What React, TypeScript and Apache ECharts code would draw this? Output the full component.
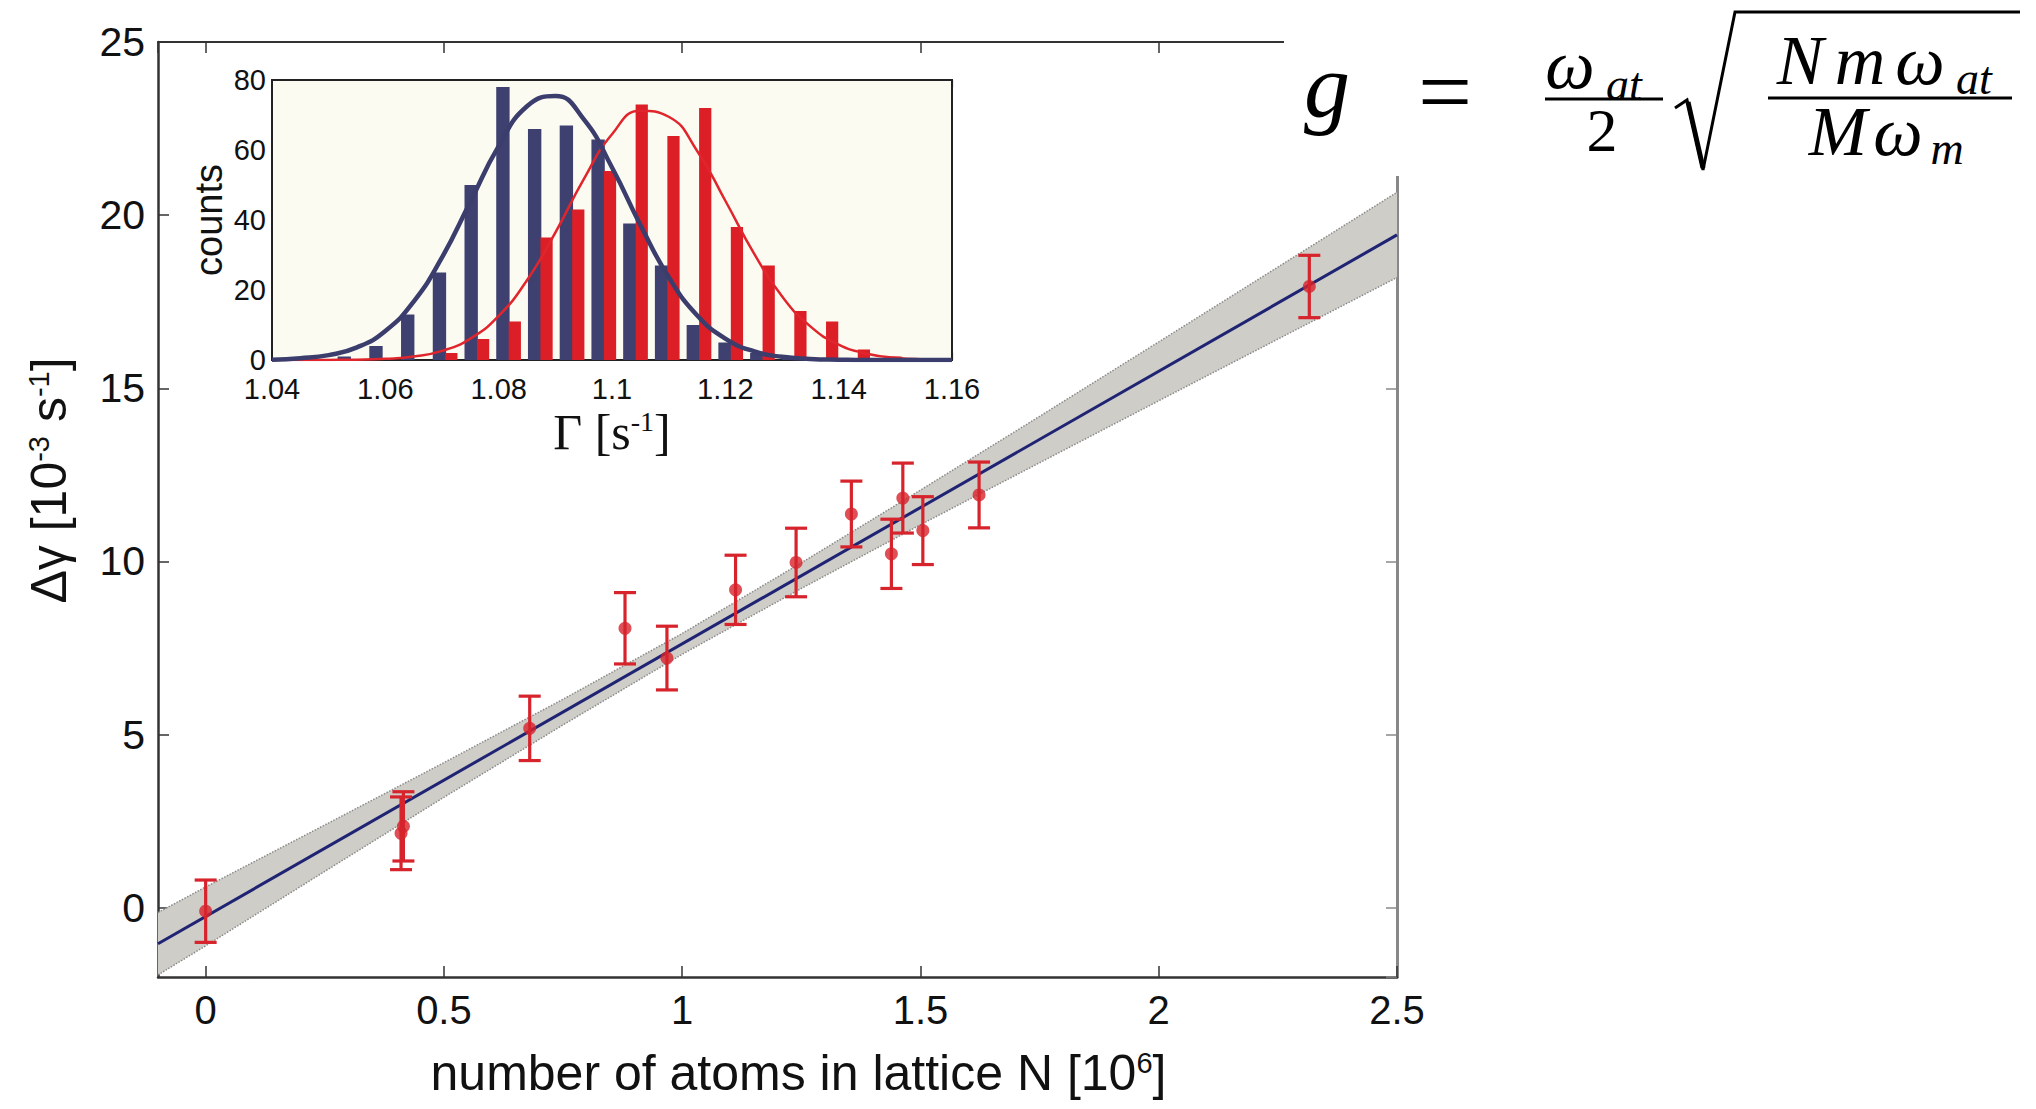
import React, { useEffect, useRef } from "react";
import * as echarts from "echarts";

// ---- main plot data: delta gamma vs atom number ----
const atomsN = [0, 0.41, 0.415, 0.68, 0.88, 0.968, 1.112, 1.239, 1.355, 1.439, 1.463, 1.505, 1.623, 2.316];
const deltaGamma = [-0.1, 2.15, 2.35, 5.18, 8.07, 7.21, 9.18, 9.97, 11.37, 10.22, 11.83, 10.89, 11.92, 17.94];
const errGamma = [0.9, 1.05, 1.0, 0.93, 1.03, 0.92, 1.0, 0.99, 0.95, 1.0, 1.01, 0.98, 0.95, 0.9];

// linear fit and its confidence band
const fitN = [-0.1, 2.5];
const fitGamma = [-1.04, 19.43];
const bandN = [-0.1, 0, 0.25, 0.5, 0.75, 1.0, 1.25, 1.5, 1.75, 2.0, 2.25, 2.5];
const bandLower = [-1.94, -1.1, 1.05, 3.19, 5.28, 7.32, 9.22, 11.06, 12.85, 14.64, 16.42, 18.2];
const bandUpper = [-0.14, 0.6, 2.39, 4.19, 6.02, 7.92, 9.96, 12.06, 14.19, 16.34, 18.5, 20.66];

// ---- inset histogram ----
const binGamma = [1.0538, 1.0594, 1.065, 1.0706, 1.0762, 1.0818, 1.0874, 1.093, 1.0986, 1.1042, 1.1098, 1.1154, 1.121, 1.1266, 1.1322, 1.1378, 1.1434, 1.149];
const blueCounts = [1, 4, 13, 25, 50, 78, 66, 67, 63, 39, 27, 10, 5, 2, 1, 0, 0, 0];
const redCounts = [0, 0, 0, 2, 6, 11, 35, 43, 54, 73, 64, 72, 38, 27, 14, 11, 3, 1];

const curveGamma = [1.04, 1.045, 1.05, 1.055, 1.06, 1.065, 1.07, 1.075, 1.08, 1.085, 1.09, 1.095, 1.1, 1.105, 1.11, 1.115, 1.12, 1.125, 1.13, 1.135, 1.14, 1.145, 1.15, 1.155, 1.16];
const blueFit = [0.1, 0.5, 1.4, 3.6, 8.3, 16.7, 29.3, 45.2, 61.1, 72.5, 75.4, 68.8, 55.0, 38.6, 23.7, 12.8, 6.1, 2.5, 0.9, 0.3, 0.1, 0, 0, 0, 0];
const redFit = [0, 0, 0.03, 0.1, 0.34, 1.0, 2.6, 6.1, 12.6, 22.8, 36.4, 51.6, 64.5, 71.2, 69.5, 59.8, 45.5, 30.6, 18.2, 9.6, 4.4, 1.8, 0.66, 0.2, 0.06];

const SANS = "Liberation Sans, Arial, sans-serif";
const SERIF = "Liberation Serif, Times New Roman, serif";
const RED = "#d6232c";
const NAVY = "#1f2373";
const BLUE_BAR = "#3e4070";
const RED_BAR = "#dc1e27";

function barRenderer(offset: number, halfW: number, color: string) {
  return (_params: any, api: any) => {
    const c = api.value(0) as number;
    const h = api.value(1) as number;
    if (!h) return null;
    const p0 = api.coord([c + offset - halfW, h]);
    const p1 = api.coord([c + offset + halfW, 0]);
    return {
      type: "rect",
      shape: { x: p0[0], y: p0[1], width: p1[0] - p0[0], height: p1[1] - p0[1] },
      style: { fill: color },
    };
  };
}

function mathText(text: string, x: number, y: number, size: number, italic: boolean) {
  return {
    type: "text",
    x,
    y,
    z: 110,
    style: {
      text,
      fill: "#000",
      fontSize: size,
      fontFamily: SERIF,
      fontStyle: italic ? "italic" : "normal",
      textAlign: "center",
      textVerticalAlign: "middle",
      align: "center",
      verticalAlign: "middle",
    },
  };
}

export default function App() {
  const ref = useRef<HTMLDivElement>(null);

  useEffect(() => {
    if (!ref.current) return;
    const chart = echarts.init(ref.current, undefined, { renderer: "svg" });

    const mainTick = { inside: true, length: 11, lineStyle: { color: "#333", width: 1.5 } };
    const insetTick = { inside: true, length: 7, lineStyle: { color: "#333", width: 1.2 } };

    const option: any = {
      animation: false,
      backgroundColor: "#ffffff",
      textStyle: { fontFamily: SANS },
      grid: [
        { left: 158, top: 42, width: 1239, height: 935, show: false },
        { left: 272, top: 80, width: 680, height: 280, show: true, backgroundColor: "#fbfbf2", borderColor: "#222", borderWidth: 2, z: 5 },
      ],
      xAxis: [
        {
          type: "value", gridIndex: 0, position: "bottom", min: -0.1, max: 2.5, splitNumber: 5,
          axisLine: { show: true, onZero: false, lineStyle: { color: "#333", width: 2.5 } },
          axisTick: mainTick,
          splitLine: { show: false },
          axisLabel: { fontSize: 40, color: "#111", margin: 13, fontFamily: SANS, showMinLabel: false },
          name: "{n|number of atoms in lattice N [10}{s|6}{n|]}",
          nameLocation: "middle",
          nameGap: 71,
          nameTextStyle: {
            padding: [0, 0, 0, 42],
            rich: {
              n: { fontSize: 50, fontFamily: SANS, color: "#111" },
              s: { fontSize: 29, fontFamily: SANS, color: "#111", verticalAlign: "top" },
            },
          },
        },
        {
          type: "value", gridIndex: 0, position: "top", min: -0.1, max: 2.5, splitNumber: 5,
          axisLine: { show: true, onZero: false, lineStyle: { color: "#333", width: 2 } },
          axisTick: mainTick, axisLabel: { show: false }, splitLine: { show: false },
        },
        {
          type: "value", gridIndex: 1, position: "bottom", min: 1.04, max: 1.16, interval: 0.02,
          axisLine: { show: true, onZero: false, lineStyle: { color: "#222", width: 2 } },
          axisTick: insetTick, splitLine: { show: false },
          axisLabel: { fontSize: 29, lineHeight: 29, color: "#111", margin: 14, fontFamily: SANS, formatter: (v: number) => String(+v.toFixed(2)) },
          name: "{n|Γ [s}{s|-1}{n|]}",
          nameLocation: "middle",
          nameGap: 47,
          nameTextStyle: {
            rich: {
              n: { fontSize: 50, fontFamily: SERIF, color: "#111" },
              s: { fontSize: 28, fontFamily: SERIF, color: "#111", verticalAlign: "top" },
            },
          },
        },
        {
          type: "value", gridIndex: 1, position: "top", min: 1.04, max: 1.16, interval: 0.02,
          axisLine: { show: true, onZero: false, lineStyle: { color: "#222", width: 2 } },
          axisTick: insetTick, axisLabel: { show: false }, splitLine: { show: false },
        },
      ],
      yAxis: [
        {
          type: "value", gridIndex: 0, position: "left", min: -2, max: 25, splitNumber: 5,
          axisLine: { show: true, onZero: false, lineStyle: { color: "#333", width: 2.5 } },
          axisTick: mainTick, splitLine: { show: false },
          axisLabel: { fontSize: 41, color: "#111", margin: 13, fontFamily: SANS, showMinLabel: false },
          name: "{n|Δγ [10}{s|-3}{n| s}{s|-1}{n|]}",
          nameLocation: "middle",
          nameGap: 84,
          nameTextStyle: {
            padding: [0, 0, 0, 58],
            rich: {
              n: { fontSize: 50, fontFamily: SANS, color: "#111" },
              s: { fontSize: 29, fontFamily: SANS, color: "#111", verticalAlign: "top" },
            },
          },
        },
        {
          type: "value", gridIndex: 0, position: "right", min: -2, max: 25, splitNumber: 5,
          axisLine: { show: true, onZero: false, lineStyle: { color: "#888", width: 3 } },
          axisTick: { inside: true, length: 11, lineStyle: { color: "#888", width: 1.5 } },
          axisLabel: { show: false }, splitLine: { show: false },
        },
        {
          type: "value", gridIndex: 1, position: "left", min: 0, max: 80, interval: 20,
          axisLine: { show: true, onZero: false, lineStyle: { color: "#222", width: 2 } },
          axisTick: insetTick, splitLine: { show: false },
          axisLabel: { fontSize: 29, lineHeight: 29, color: "#111", margin: 6, fontFamily: SANS },
          name: "counts",
          nameLocation: "middle",
          nameGap: 44,
          nameTextStyle: { fontSize: 38, fontFamily: SANS, color: "#111" },
        },
        {
          type: "value", gridIndex: 1, position: "right", min: 0, max: 80, interval: 20,
          axisLine: { show: true, onZero: false, lineStyle: { color: "#222", width: 2 } },
          axisTick: insetTick, axisLabel: { show: false }, splitLine: { show: false },
        },
      ],
      series: [
        {
          type: "custom",
          name: "confidence band",
          xAxisIndex: 0, yAxisIndex: 0, z: 1,
          data: bandN.map((n, i) => [n, bandLower[i], bandUpper[i]]),
          encode: { x: 0, y: [1, 2] },
          renderItem: (params: any, api: any) => {
            if (params.dataIndex !== 0) return null;
            const up = bandN.map((n, i) => api.coord([n, bandUpper[i]]));
            const lo = bandN.map((n, i) => api.coord([n, bandLower[i]])).reverse();
            return { type: "polygon", shape: { points: up.concat(lo) }, style: { fill: "#cfcdc7" } };
          },
        },
        {
          type: "line", name: "band upper", xAxisIndex: 0, yAxisIndex: 0, z: 2,
          data: bandN.map((n, i) => [n, bandUpper[i]]),
          symbol: "none", lineStyle: { color: "#8a8a8a", width: 1.5, type: "dotted" },
        },
        {
          type: "line", name: "band lower", xAxisIndex: 0, yAxisIndex: 0, z: 2,
          data: bandN.map((n, i) => [n, bandLower[i]]),
          symbol: "none", lineStyle: { color: "#8a8a8a", width: 1.5, type: "dotted" },
        },
        {
          type: "line", name: "fit", xAxisIndex: 0, yAxisIndex: 0, z: 3,
          data: fitN.map((n, i) => [n, fitGamma[i]]),
          symbol: "none", lineStyle: { color: NAVY, width: 3 },
        },
        {
          type: "custom", name: "error bars", xAxisIndex: 0, yAxisIndex: 0, z: 4,
          data: atomsN.map((n, i) => [n, deltaGamma[i], errGamma[i]]),
          encode: { x: 0, y: 1 },
          renderItem: (_params: any, api: any) => {
            const x = api.value(0) as number;
            const y = api.value(1) as number;
            const e = api.value(2) as number;
            const top = api.coord([x, y + e]);
            const bot = api.coord([x, y - e]);
            const cw = 11;
            const st = { stroke: RED, lineWidth: 3.2 };
            return {
              type: "group",
              children: [
                { type: "line", shape: { x1: top[0], y1: top[1], x2: bot[0], y2: bot[1] }, style: st },
                { type: "line", shape: { x1: top[0] - cw, y1: top[1], x2: top[0] + cw, y2: top[1] }, style: st },
                { type: "line", shape: { x1: bot[0] - cw, y1: bot[1], x2: bot[0] + cw, y2: bot[1] }, style: st },
              ],
            };
          },
        },
        {
          type: "scatter", name: "data", xAxisIndex: 0, yAxisIndex: 0, z: 5,
          data: atomsN.map((n, i) => [n, deltaGamma[i]]),
          symbol: "circle", symbolSize: 13, itemStyle: { color: RED },
        },
        {
          type: "custom", name: "counts blue", xAxisIndex: 2, yAxisIndex: 2, z: 6,
          data: binGamma.map((g, i) => [g, blueCounts[i]]),
          encode: { x: 0, y: 1 },
          renderItem: barRenderer(-0.00105, 0.00118, BLUE_BAR),
        },
        {
          type: "custom", name: "counts red", xAxisIndex: 2, yAxisIndex: 2, z: 6,
          data: binGamma.map((g, i) => [g, redCounts[i]]),
          encode: { x: 0, y: 1 },
          renderItem: barRenderer(0.00105, 0.00108, RED_BAR),
        },
        {
          type: "line", name: "fit red", xAxisIndex: 2, yAxisIndex: 2, z: 7,
          data: curveGamma.map((g, i) => [g, redFit[i]]),
          symbol: "none", smooth: true, lineStyle: { color: "#e0262c", width: 2.5 },
        },
        {
          type: "line", name: "fit blue", xAxisIndex: 2, yAxisIndex: 2, z: 8,
          data: curveGamma.map((g, i) => [g, blueFit[i]]),
          symbol: "none", smooth: true, lineStyle: { color: "#3b3d6c", width: 4.5 },
        },
      ],
      graphic: [
        { type: "rect", z: 100, shape: { x: 1284, y: 0, width: 752, height: 176 }, style: { fill: "#ffffff" } },
        mathText("g", 1327, 86, 92, true),
        mathText("=", 1445, 91, 96, false),
        mathText("ω", 1570, 64, 70, true),
        mathText("at", 1624, 84, 46, true),
        { type: "line", z: 110, shape: { x1: 1545, y1: 99, x2: 1663, y2: 99 }, style: { stroke: "#000", lineWidth: 3 } },
        mathText("2", 1602, 130, 62, false),
        { type: "polyline", z: 110, shape: { points: [[1675, 108], [1687, 100], [1703, 170], [1735, 12], [2020, 12]] }, style: { stroke: "#000", lineWidth: 3, fill: null } },
        { type: "line", z: 110, shape: { x1: 1688, y1: 102, x2: 1703, y2: 168 }, style: { stroke: "#000", lineWidth: 5 } },
        mathText("N", 1800, 60, 70, true),
        mathText("m", 1860, 60, 70, true),
        mathText("ω", 1920, 60, 70, true),
        mathText("at", 1974, 78, 46, true),
        { type: "line", z: 110, shape: { x1: 1768, y1: 98, x2: 2012, y2: 98 }, style: { stroke: "#000", lineWidth: 3 } },
        mathText("M", 1838, 131, 70, true),
        mathText("ω", 1898, 131, 70, true),
        mathText("m", 1947, 148, 46, true),
      ],
    };

    chart.setOption(option);
    return () => chart.dispose();
  }, []);

  return <div ref={ref} style={{ position: "absolute", left: 0, top: 0, width: 2036, height: 1109 }} />;
}
